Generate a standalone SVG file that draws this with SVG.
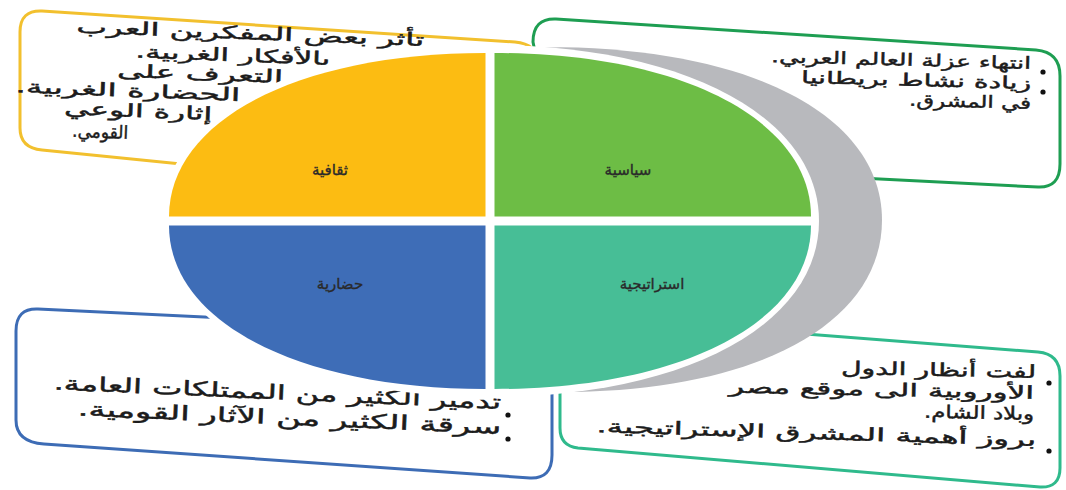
<svg xmlns="http://www.w3.org/2000/svg" width="1066" height="490" viewBox="0 0 1066 490">
<style>
.box{fill:#fff;stroke-width:3;stroke-linejoin:round}
.t{font-family:"DejaVu Sans","Noto Sans",sans-serif;font-size:18px;fill:#1c1c1c;stroke:#1c1c1c;stroke-width:0.45;direction:rtl;text-anchor:start}
.tb{font-size:20px}
.tg{font-size:17px}
.lbl{font-family:"DejaVu Sans","Noto Sans",sans-serif;font-size:15px;fill:#2a2a2a;stroke:#2a2a2a;stroke-width:0.35;text-anchor:middle}
.dot{fill:#111}
</style>
<rect width="1066" height="490" fill="#fff"/>

<g id="box-thaqafiya">
<path class="box" stroke="#f2c02e" d="M20,32 Q20,10 42,11 L515,42 Q537,44 538,62 L538,200 L42,150 Q20,148 20,128 Z"/>
<text class="t" x="424" y="46" textLength="348" lengthAdjust="spacingAndGlyphs" transform="rotate(2.2 424 46)">تأثر بعض المفكرين العرب</text>
<text class="t" x="330" y="65" textLength="195" lengthAdjust="spacingAndGlyphs" transform="rotate(2.2 330 65)">بالأفكار الغربية.</text>
<text class="t" x="283" y="83" textLength="166" lengthAdjust="spacingAndGlyphs" transform="rotate(2.2 283 83)">التعرف على</text>
<text class="t" x="240" y="101" textLength="225" lengthAdjust="spacingAndGlyphs" transform="rotate(2.2 240 101)">الحضارة الغربية.</text>
<text class="t" x="212" y="120" textLength="148" lengthAdjust="spacingAndGlyphs" transform="rotate(2.2 212 120)">إثارة الوعي</text>
<text class="t" x="128" y="139" textLength="56" lengthAdjust="spacingAndGlyphs" transform="rotate(2.2 128 139)">القومي.</text>
<circle class="dot" cx="435" cy="51" r="2.6"/>
<circle class="dot" cx="292" cy="84" r="2.6"/>
<circle class="dot" cx="218" cy="122" r="2.6"/>
</g>

<g id="box-siyasiya">
<path class="box" stroke="#1e9e52" d="M533,42 Q533,18 556,19 L1036,50 Q1060,52 1060,76 L1060,164 Q1060,188 1038,187 L860,178 L560,170 Z"/>
<text class="t tg" x="1031" y="69" textLength="260" lengthAdjust="spacingAndGlyphs" transform="rotate(1.5 1031 69)">انتهاء عزلة العالم العربي.</text>
<text class="t tg" x="1031" y="89" textLength="230" lengthAdjust="spacingAndGlyphs" transform="rotate(1.5 1031 89)">زيادة نشاط بريطانيا</text>
<text class="t tg" x="1031" y="109" textLength="122" lengthAdjust="spacingAndGlyphs" transform="rotate(1.5 1031 109)">في المشرق.</text>
<circle class="dot" cx="1043" cy="72" r="2.6"/>
<circle class="dot" cx="1043" cy="92" r="2.6"/>
</g>

<g id="box-istiratijiya">
<path class="box" stroke="#2fba8c" d="M560,392 L560,428 Q560,446 578,448 L1040,487 Q1060,488 1060,468 L1060,376 Q1060,354 1038,352 L780,332 Z"/>
<text class="t" x="1036" y="378" textLength="195" lengthAdjust="spacingAndGlyphs" transform="rotate(1.2 1036 378)">لفت أنظار  الدول</text>
<text class="t" x="1034" y="399" textLength="305" lengthAdjust="spacingAndGlyphs" transform="rotate(1.2 1034 399)">الأوروبية الى موقع مصر</text>
<text class="t" x="1034" y="420" textLength="110" lengthAdjust="spacingAndGlyphs" transform="rotate(1.2 1034 420)">وبلاد الشام.</text>
<text class="t" x="1036" y="446" textLength="440" lengthAdjust="spacingAndGlyphs" transform="rotate(1.8 1036 446)">بروز أهمية المشرق الإستراتيجية.</text>
<circle class="dot" cx="1049" cy="383" r="2.6"/>
<circle class="dot" cx="1049" cy="451" r="2.6"/>
</g>

<g id="box-hadariya">
<path class="box" stroke="#3d6cb5" d="M16,331 Q16,308 38,309 L470,330 L552,340 L552,455 Q552,479 530,478 L44,444 Q16,442 16,420 Z"/>
<text class="t tb" x="501" y="409" textLength="448" lengthAdjust="spacingAndGlyphs" transform="rotate(2.5 501 409)">تدمير الكثير من الممتلكات العامة.</text>
<text class="t tb" x="501" y="434" textLength="424" lengthAdjust="spacingAndGlyphs" transform="rotate(2.5 501 434)">سرقة الكثير من الآثار القومية.</text>
<circle class="dot" cx="508" cy="415" r="2.6"/>
<circle class="dot" cx="508" cy="439" r="2.6"/>
</g>

<g id="crescent">
<path fill="#b8b9bd" d="M545,47 C760,47 882,120 882,220 C882,322 760,392 560,392 Z"/>
<path fill="#fff" d="M490,45 C684,45 819,117 819,221 C819,325 684,397 490,397 C296,397 161,325 161,221 C161,117 296,45 490,45 Z"/>
</g>

<g id="q-thaqafiya">
<path fill="#fcbc12" d="M485.5,216.5 L485.5,53 C298.8,53 169,120 169,216.5 Z"/>
<text class="lbl" x="330" y="175">ثقافية</text>
</g>
<g id="q-siyasiya">
<path fill="#6dbd45" d="M494.5,216.5 L811,216.5 C811,120 681.2,53 494.5,53 Z"/>
<text class="lbl" x="628" y="175">سياسية</text>
</g>
<g id="q-istiratijiya">
<path fill="#47be96" d="M494.5,225.5 L494.5,389 C681.2,389 811,322 811,225.5 Z"/>
<text class="lbl" x="652" y="289">استراتيجية</text>
</g>
<g id="q-hadariya">
<path fill="#3e6db7" d="M485.5,225.5 L169,225.5 C169,322 298.8,389 485.5,389 Z"/>
<text class="lbl" x="340" y="289">حضارية</text>
</g>
</svg>
